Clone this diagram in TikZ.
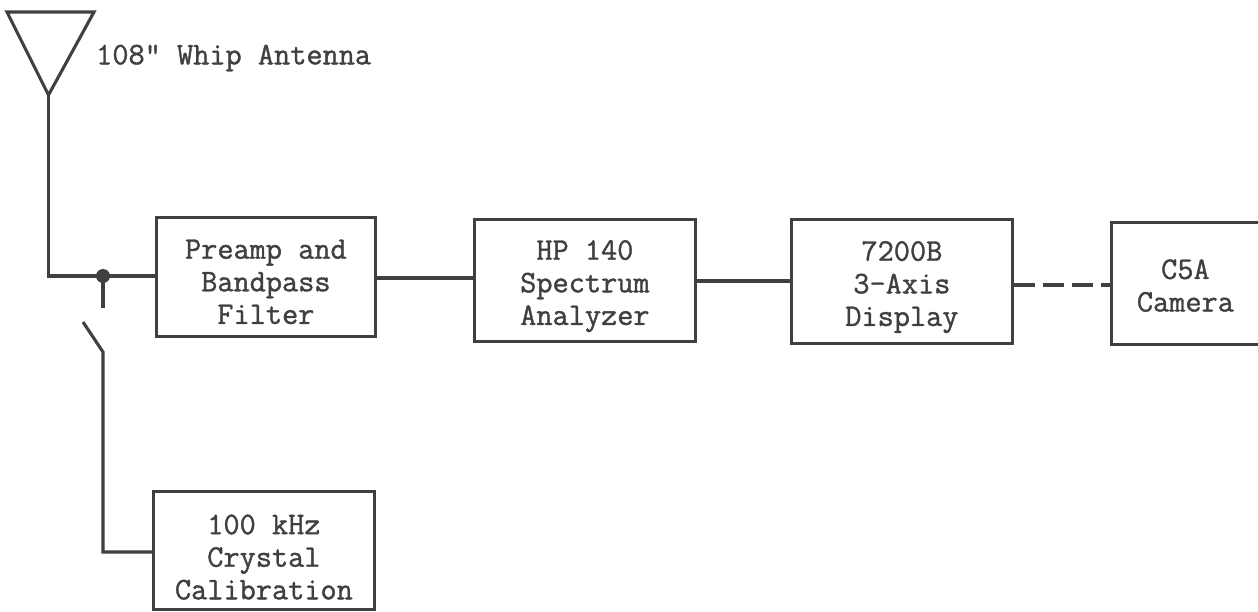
\documentclass[tikz,border=0pt]{standalone}
\usepackage{fontspec}
\newfontfamily\tw[FakeBold=1.2]{Latin Modern Mono}
\definecolor{ink}{HTML}{404040}
\newcommand\tp[1]{\rule{0pt}{#1pt}}
\tikzset{
 wire/.style={draw=ink,line width=3.1pt},
 blockbox/.style={draw=ink,line width=2.8pt,anchor=north west,inner sep=0pt,align=center,text=ink,font=\tw\fontsize{31.4}{32.6}\selectfont},
 lbl/.style={text=ink,font=\tw\fontsize{31.4}{32.6}\selectfont,inner sep=0pt}
}
\begin{document}
\begin{tikzpicture}[x=1pt,y=-1pt]
\useasboundingbox (0,0) rectangle (1258,612);
\fill[white] (0,0) rectangle (1258,612);
\node[blockbox,minimum width=219pt,minimum height=119pt] (pre) at (155,216) {\tp{29}Preamp and\\Bandpass\\Filter};
\node[blockbox,minimum width=221pt,minimum height=122pt] (hp) at (473,218) {\tp{31}HP 140\\Spectrum\\Analyzer};
\node[blockbox,minimum width=221pt,minimum height=124pt] (disp) at (790,218) {\tp{31}7200B\\3-Axis\\Display};
\node[blockbox,minimum width=148pt,minimum height=122pt] (cam) at (1110,221) {\tp{24}C5A\\Camera};
\node[blockbox,minimum width=221pt,minimum height=118pt] (cal) at (152,490) {\tp{33}100 kHz\\Crystal\\Calibration};
\node[lbl,anchor=west] (ant) at (96,58) {108" Whip Antenna};
\coordinate (a1) at (7,12); \coordinate (a2) at (94,12); \coordinate (tip) at (48.5,95);
\draw[wire,line join=miter] (a1) -- (a2) -- (tip) -- cycle;
\coordinate (c1) at (48.5,276);
\coordinate (j) at (103,276);
\draw[wire] (tip) -- (c1) -- (j) -- (pre.west |- j);
\fill[ink] (j) circle (7pt);
\coordinate (s1) at (103,308);
\coordinate (s2) at (103,352);
\coordinate (s3) at (103,552);
\coordinate (swa) at (83,322);
\draw[wire] (j) -- (s1);
\draw[wire] (swa) -- (s2) -- (s3) -- (s3 -| cal.west);
\draw[wire] (pre.east |- 0,278) -- (hp.west |- 0,278);
\draw[wire] (hp.east |- 0,281) -- (disp.west |- 0,281);
\draw[wire,dash pattern=on 21pt off 8pt] (disp.east |- 0,285) -- (cam.west |- 0,285);
\end{tikzpicture}
\end{document}
